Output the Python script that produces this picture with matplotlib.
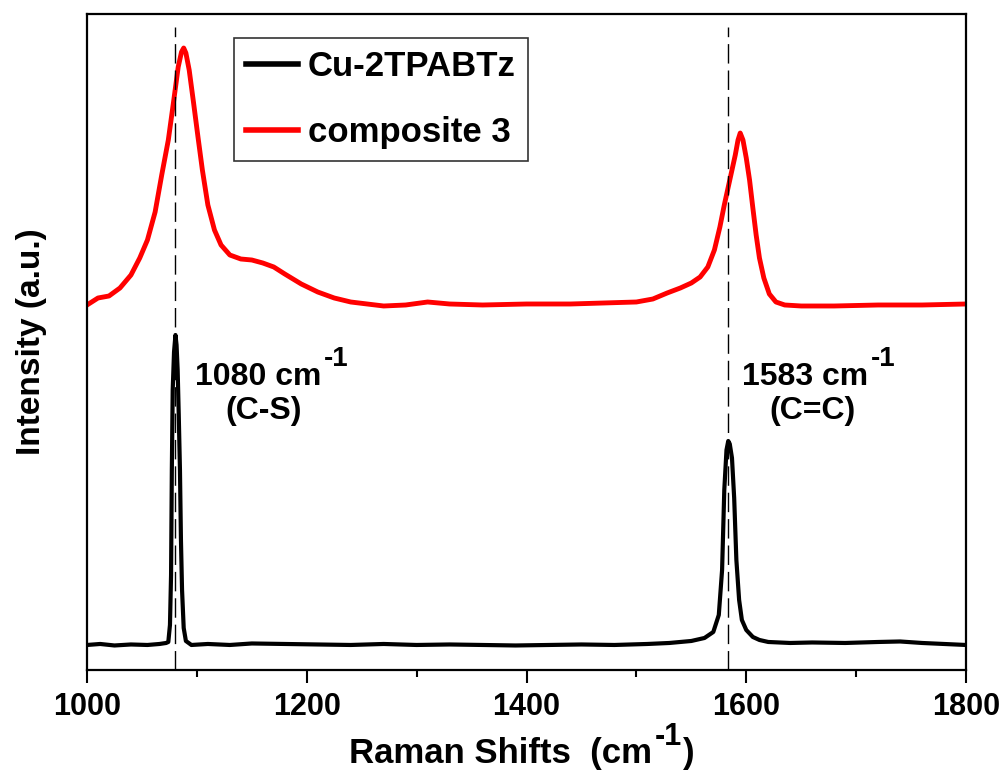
import matplotlib
matplotlib.use("Agg")
import matplotlib.pyplot as plt
from matplotlib.ticker import MultipleLocator

plt.rcParams['font.family'] = ['Liberation Sans', 'DejaVu Sans']
plt.rcParams['font.weight'] = 'bold'
plt.rcParams['axes.labelweight'] = 'bold'

# Cu-2TPABTz spectrum
cu_x = [1000, 1012, 1025, 1040, 1055, 1066, 1072, 1074, 1075.5, 1076.5, 1077.2,
        1078, 1079.2, 1080.5, 1081.5, 1082.5, 1083.5, 1084.6, 1085.5, 1086.5,
        1088, 1090, 1095, 1110, 1130, 1150, 1180, 1210, 1240, 1270, 1300, 1330,
        1360, 1390, 1420, 1450, 1480, 1510, 1530, 1550, 1562, 1570, 1575, 1578,
        1580, 1582, 1583.6, 1585, 1587, 1589, 1591, 1593.5, 1596, 1600, 1606,
        1612, 1620, 1640, 1660, 1690, 1720, 1740, 1760, 1780, 1800]
cu_y = [25, 26, 24.5, 25.5, 25, 26, 27, 28, 45, 95, 200,
        280, 318, 335, 325, 300, 255, 200, 130, 80,
        42, 29, 25, 26, 25, 26.5, 26, 25.5, 25, 26, 25, 25.5,
        25, 24.5, 25, 25.5, 25, 26, 27, 29, 32, 38, 55, 100,
        180, 220, 229, 226, 212, 172, 110, 70, 50, 40, 33,
        30, 28, 27, 27.5, 27, 28, 28.5, 27, 26, 25]

# composite 3 spectrum (offset upwards in the original)
comp_x = [1000, 1010, 1020, 1030, 1040, 1048, 1055, 1062, 1068, 1074, 1079, 1083,
          1086, 1088, 1090, 1093, 1097, 1101, 1105, 1110, 1116, 1122, 1130, 1140,
          1150, 1160, 1170, 1180, 1195, 1210, 1225, 1240, 1255, 1270, 1290, 1310,
          1330, 1360, 1400, 1440, 1470, 1500, 1515, 1528, 1540, 1550, 1558, 1565,
          1571, 1576, 1580, 1584, 1587, 1590, 1592.5, 1594.5, 1597, 1600, 1603,
          1606, 1609, 1612, 1616, 1621, 1627, 1635, 1650, 1680, 1720, 1760, 1800]
comp_y = [365, 372, 374, 382, 395, 412, 430, 458, 495, 530, 570, 603,
          618, 622, 617, 600, 567, 533, 500, 465, 440, 425, 415, 411,
          410, 407, 403, 396, 386, 378, 372, 368, 366, 364, 365, 368,
          366, 365, 366, 366, 367, 368, 371, 377, 382, 387, 393, 403,
          420, 443, 465, 485, 500, 515, 530, 537, 530, 512, 490,
          462, 435, 412, 392, 376, 368, 365, 364, 364, 365, 365, 366]

peaks = [1080, 1583]
peak_labels = ["1080 cm", "1583 cm"]
bond_labels = ["(C-S)", "(C=C)"]


def sup_text(ax, x, y, base, sup, size, sup_size, rise, coords, tail=""):
    # base text, then a raised "-1" and an optional closing part
    t = ax.annotate(base, (x, y), xycoords=coords, fontsize=size,
                    ha="left", va="baseline", annotation_clip=False)
    s = ax.annotate(sup, (1, y + rise), xycoords=(t, coords),
                    xytext=(2, 0), textcoords="offset points",
                    fontsize=sup_size, ha="left", va="baseline",
                    annotation_clip=False)
    if tail:
        ax.annotate(tail, (1, y), xycoords=(s, coords),
                    xytext=(1, 0), textcoords="offset points",
                    fontsize=size, ha="left", va="baseline",
                    annotation_clip=False)


fig = plt.figure(figsize=(10.07, 7.74), dpi=100)
ax = fig.add_axes([0.0864, 0.1344, 0.8729, 0.8475])

ax.plot(cu_x, cu_y, color="black", lw=3, label="Cu-2TPABTz")
ax.plot(comp_x, comp_y, color="red", lw=3.5, label="composite 3")

for p in peaks:
    ax.plot([p, p], [0, 643], color="black", lw=1, linestyle=(0, (14, 5)))

# y data units are 1 px tall here, so rise is in px
sup_text(ax, 1098, 285, peak_labels[0], "-1", 23, 20, 19, "data")
ax.text(1161, 251, bond_labels[0], fontsize=23, ha="center", va="baseline")
sup_text(ax, 1596, 285, peak_labels[1], "-1", 23, 20, 19, "data")
ax.text(1660, 251, bond_labels[1], fontsize=23, ha="center", va="baseline")

ax.set_xlim(1000, 1800)
ax.set_ylim(0, 656)
ax.xaxis.set_major_locator(MultipleLocator(200))
ax.xaxis.set_minor_locator(MultipleLocator(100))
ax.set_yticks([])
ax.tick_params(axis="x", which="major", direction="out", length=9.5, width=1.5,
               labelsize=22, pad=6)
ax.tick_params(axis="x", which="minor", direction="out", length=5, width=1.5)
for s in ax.spines.values():
    s.set_linewidth(1.6)

# x label built from pieces so the superscript keeps a plain hyphen
sup_text(ax, 349, 11, "Raman Shifts  (cm", "-1", 25, 22, 18,
         "figure pixels", tail=")")
ax.set_ylabel("Intensity (a.u.)", fontsize=24, labelpad=29)

leg = ax.legend(loc="upper left", bbox_to_anchor=(0.167, 0.964), fontsize=25,
                frameon=True, fancybox=False, edgecolor="black",
                handlelength=1.5, labelspacing=0.95,
                borderpad=0.35, handletextpad=0.28, borderaxespad=0)
leg.get_frame().set_linewidth(1.2)
for line in leg.get_lines():
    line.set_linewidth(4)

fig.savefig("out.png", dpi=100)
